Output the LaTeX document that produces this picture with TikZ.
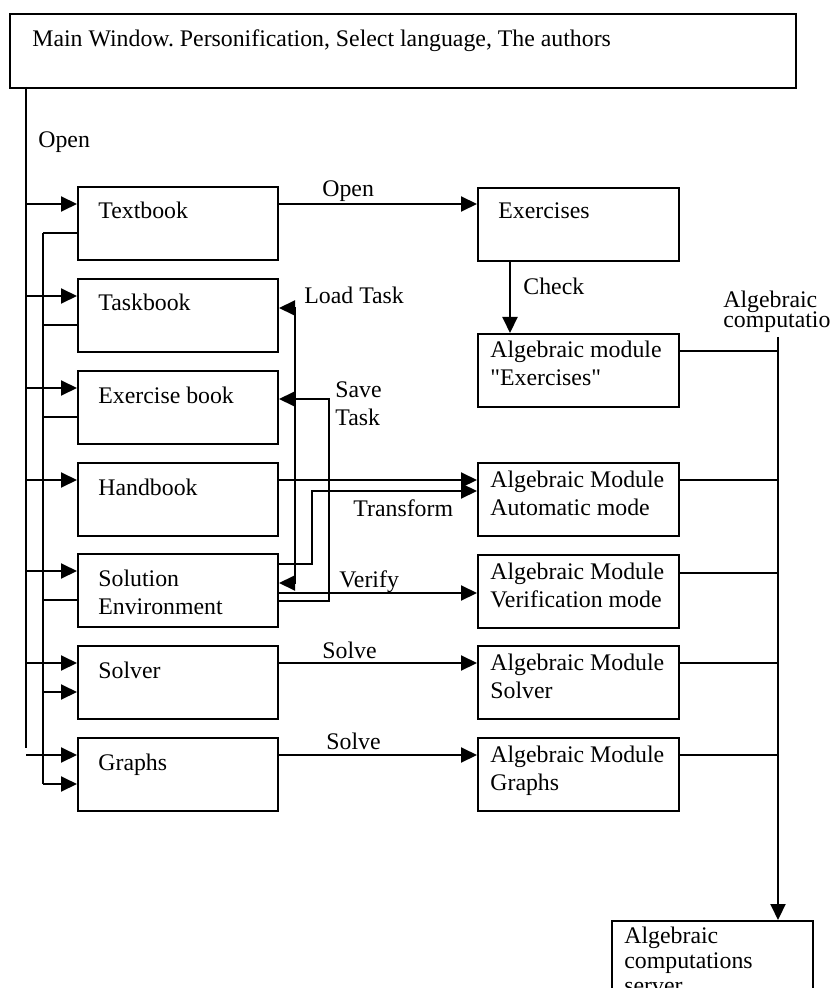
\documentclass[tikz,border=0pt]{standalone}
\usepackage{fontspec}
\setmainfont{Liberation Serif}
\usetikzlibrary{arrows.meta, positioning}
\tikzset{
  lbox/.style={draw,line width=1pt,anchor=north west,minimum width=100pt,minimum height=36.5pt,inner sep=0pt},
  mbox/.style={lbox,minimum width=100.5pt},
  boxtext/.style={anchor=base west,align=left,inner sep=0pt},
  lbl/.style={anchor=base west,inner sep=0pt},
  flow/.style={-{Triangle[length=8pt,width=7.5pt]},line width=1pt},
  twoway/.style={{Triangle[length=8pt,width=7.5pt]}-{Triangle[length=8pt,width=7.5pt]},line width=1pt},
  link/.style={line width=1pt},
  thinlink/.style={line width=0.65pt},
}
\frenchspacing

\begin{document}
\begin{tikzpicture}[x=0.5pt,y=-0.5pt,font=\fontsize{11.9}{14}\selectfont]
  \useasboundingbox (0,0) rectangle (830,988);
  % main window
  \node[draw,line width=1.2pt,anchor=north west,minimum width=393pt,minimum height=37pt,inner sep=0pt] (main) at (9,13) {};
  \node[boxtext] (maintext) at ([shift={(23,34)}]main.north west) {Main Window. Personification, Select language, The authors};
  % left column (base anchor sits on the last line of a text)
  \node[lbox] (tb) at (77,186) {};
  \node[lbox] (kb) at (77,278) {};
  \node[lbox] (eb) at (77,370) {};
  \node[lbox] (hb) at (77,462) {};
  \node[lbox] (se) at (77,553) {};
  \node[lbox] (sv) at (77,645) {};
  \node[lbox] (gr) at (77,737) {};
  \node[boxtext] (tbtext) at ([shift={(21,33)}]tb.north west) {Textbook};
  \node[boxtext] (kbtext) at ([shift={(21,33)}]kb.north west) {Taskbook};
  \node[boxtext] (ebtext) at ([shift={(21,33)}]eb.north west) {Exercise book};
  \node[boxtext] (hbtext) at ([shift={(21,33)}]hb.north west) {Handbook};
  \node[boxtext] (setext) at ([shift={(21,61)}]se.north west) {Solution\\Environment};
  \node[boxtext] (svtext) at ([shift={(21,33)}]sv.north west) {Solver};
  \node[boxtext] (grtext) at ([shift={(21,33)}]gr.north west) {Graphs};
  % algebraic modules
  \node[mbox] (ex) at (477,187) {};
  \node[mbox] (exm) at (477,333) {};
  \node[mbox] (am) at (477,462) {};
  \node[mbox] (vm) at (477,554) {};
  \node[mbox] (sm) at (477,645) {};
  \node[mbox] (gm) at (477,737) {};
  \node[mbox,minimum height=45pt] (srv) at (611,920) {};
  \node[boxtext] (extext) at ([shift={(21,32)}]ex.north west) {Exercises};
  \node[boxtext] (exmtext) at ([shift={(13,53)}]exm.north west) {Algebraic module\\\textquotedbl Exercises\textquotedbl};
  \node[boxtext] (amtext) at ([shift={(13,53)}]am.north west) {Algebraic Module\\Automatic mode};
  \node[boxtext] (vmtext) at ([shift={(13,53)}]vm.north west) {Algebraic Module\\Verification mode};
  \node[boxtext] (smtext) at ([shift={(13,53)}]sm.north west) {Algebraic Module\\Solver};
  \node[boxtext] (gmtext) at ([shift={(13,53)}]gm.north west) {Algebraic Module\\Graphs};
  \node[boxtext,font={\fontsize{11.9}{12.5}\selectfont}] (srvtext) at ([shift={(13,73)}]srv.north west) {Algebraic\\computations\\server};

  % buses
  \coordinate (trunk) at (26,87);
  \coordinate (trunkend) at (26,748);
  \coordinate (bus) at (43,233);
  \coordinate (busend) at (43,784);
  \coordinate (rbus) at (778,337);
  \draw[link] (trunk) -- (trunkend);
  \draw[link] (bus) -- (busend);

  % open from the main window
  \draw[flow] ([yshift=-9pt]trunk |- tb.north west) -- ([yshift=-9pt]tb.north west);
  \draw[flow] ([yshift=-9pt]trunk |- kb.north west) -- ([yshift=-9pt]kb.north west);
  \draw[flow] ([yshift=-9pt]trunk |- eb.north west) -- ([yshift=-9pt]eb.north west);
  \draw[flow] ([yshift=-9pt]trunk |- hb.north west) -- ([yshift=-9pt]hb.north west);
  \draw[flow] ([yshift=-9pt]trunk |- se.north west) -- ([yshift=-9pt]se.north west);
  \draw[flow] ([yshift=-9pt]trunk |- sv.north west) -- ([yshift=-9pt]sv.north west);
  \draw[flow] ([yshift=-9pt]trunk |- gr.north west) -- ([yshift=-9pt]gr.north west);
  \draw[link] ([yshift=-23.5pt]tb.north west) -- ([yshift=-23.5pt]bus |- tb.north west);
  \draw[link] ([yshift=-23.5pt]kb.north west) -- ([yshift=-23.5pt]bus |- kb.north west);
  \draw[link] ([yshift=-23.5pt]eb.north west) -- ([yshift=-23.5pt]bus |- eb.north west);
  \draw[link] ([yshift=-23.5pt]se.north west) -- ([yshift=-23.5pt]bus |- se.north west);
  \draw[flow] ([yshift=-23.5pt]bus |- sv.north west) -- ([yshift=-23.5pt]sv.north west);
  \draw[flow] ([yshift=-23.5pt]bus |- gr.north west) -- ([yshift=-23.5pt]gr.north west);

  % links to the modules
  \draw[flow] ([yshift=-9pt]tb.north east) -- ([yshift=-9pt]tb.north east -| ex.west);
  \draw[flow] ([xshift=16.5pt]ex.south west) -- ([xshift=16.5pt]exm.north west);
  \draw[flow] ([yshift=-9pt]hb.north east) -- ([yshift=-9pt]hb.north east -| am.west);
  \draw[flow] ([yshift=-5.5pt]se.north east) -- ++(16.5pt,0) |- ([yshift=-14.5pt]am.north west);
  \draw[twoway] ([yshift=-15pt]kb.north east) -- ++(8pt,0) |- ([yshift=-15pt]se.north east);
  \draw[flow] ([yshift=-24pt]se.north east) -- ++(25pt,0) |- ([yshift=-14.5pt]eb.north east);
  \draw[flow] ([yshift=-20pt]se.north east) -- ([yshift=-20pt]se.north east -| vm.west);
  \draw[flow] ([yshift=-9pt]sv.north east) -- ([yshift=-9pt]sv.north east -| sm.west);
  \draw[flow] ([yshift=-9pt]gr.north east) -- ([yshift=-9pt]gr.north east -| gm.west);

  % computation server bus
  \draw[thinlink] ([yshift=-9pt]exm.north east) -- ([yshift=-9pt]rbus |- exm.north east);
  \draw[thinlink] ([yshift=-9pt]am.north east) -- ([yshift=-9pt]rbus |- am.north east);
  \draw[thinlink] ([yshift=-9.5pt]vm.north east) -- ([yshift=-9.5pt]rbus |- vm.north east);
  \draw[thinlink] ([yshift=-9pt]sm.north east) -- ([yshift=-9pt]rbus |- sm.north east);
  \draw[thinlink] ([yshift=-9pt]gm.north east) -- ([yshift=-9pt]rbus |- gm.north east);
  \draw[flow] (rbus) -- (rbus |- srv.north);

  % labels
  \node[lbl] (lopen) at (38,148) {Open};
  \node[lbl] (lopenex) at (322,197) {Open};
  \node[lbl] (lcheck) at (523,295) {Check};
  \node[lbl] (lload) at (304,304) {Load Task};
  \node[lbl,align=left] (lsave) at (335,425) {Save\\Task};
  \node[lbl] (ltransform) at (353,516) {Transform};
  \node[lbl] (lverify) at (339,587) {Verify};
  \node[lbl] (lsolve) at (322,658) {Solve};
  \node[lbl] (lsolvegr) at (326,749) {Solve};
  \node[lbl,align=left,font={\fontsize{11.9}{10}\selectfont\lineskiplimit-20pt}] (lcomp) at (723,328) {Algebraic\\computations};
\end{tikzpicture}
\end{document}
